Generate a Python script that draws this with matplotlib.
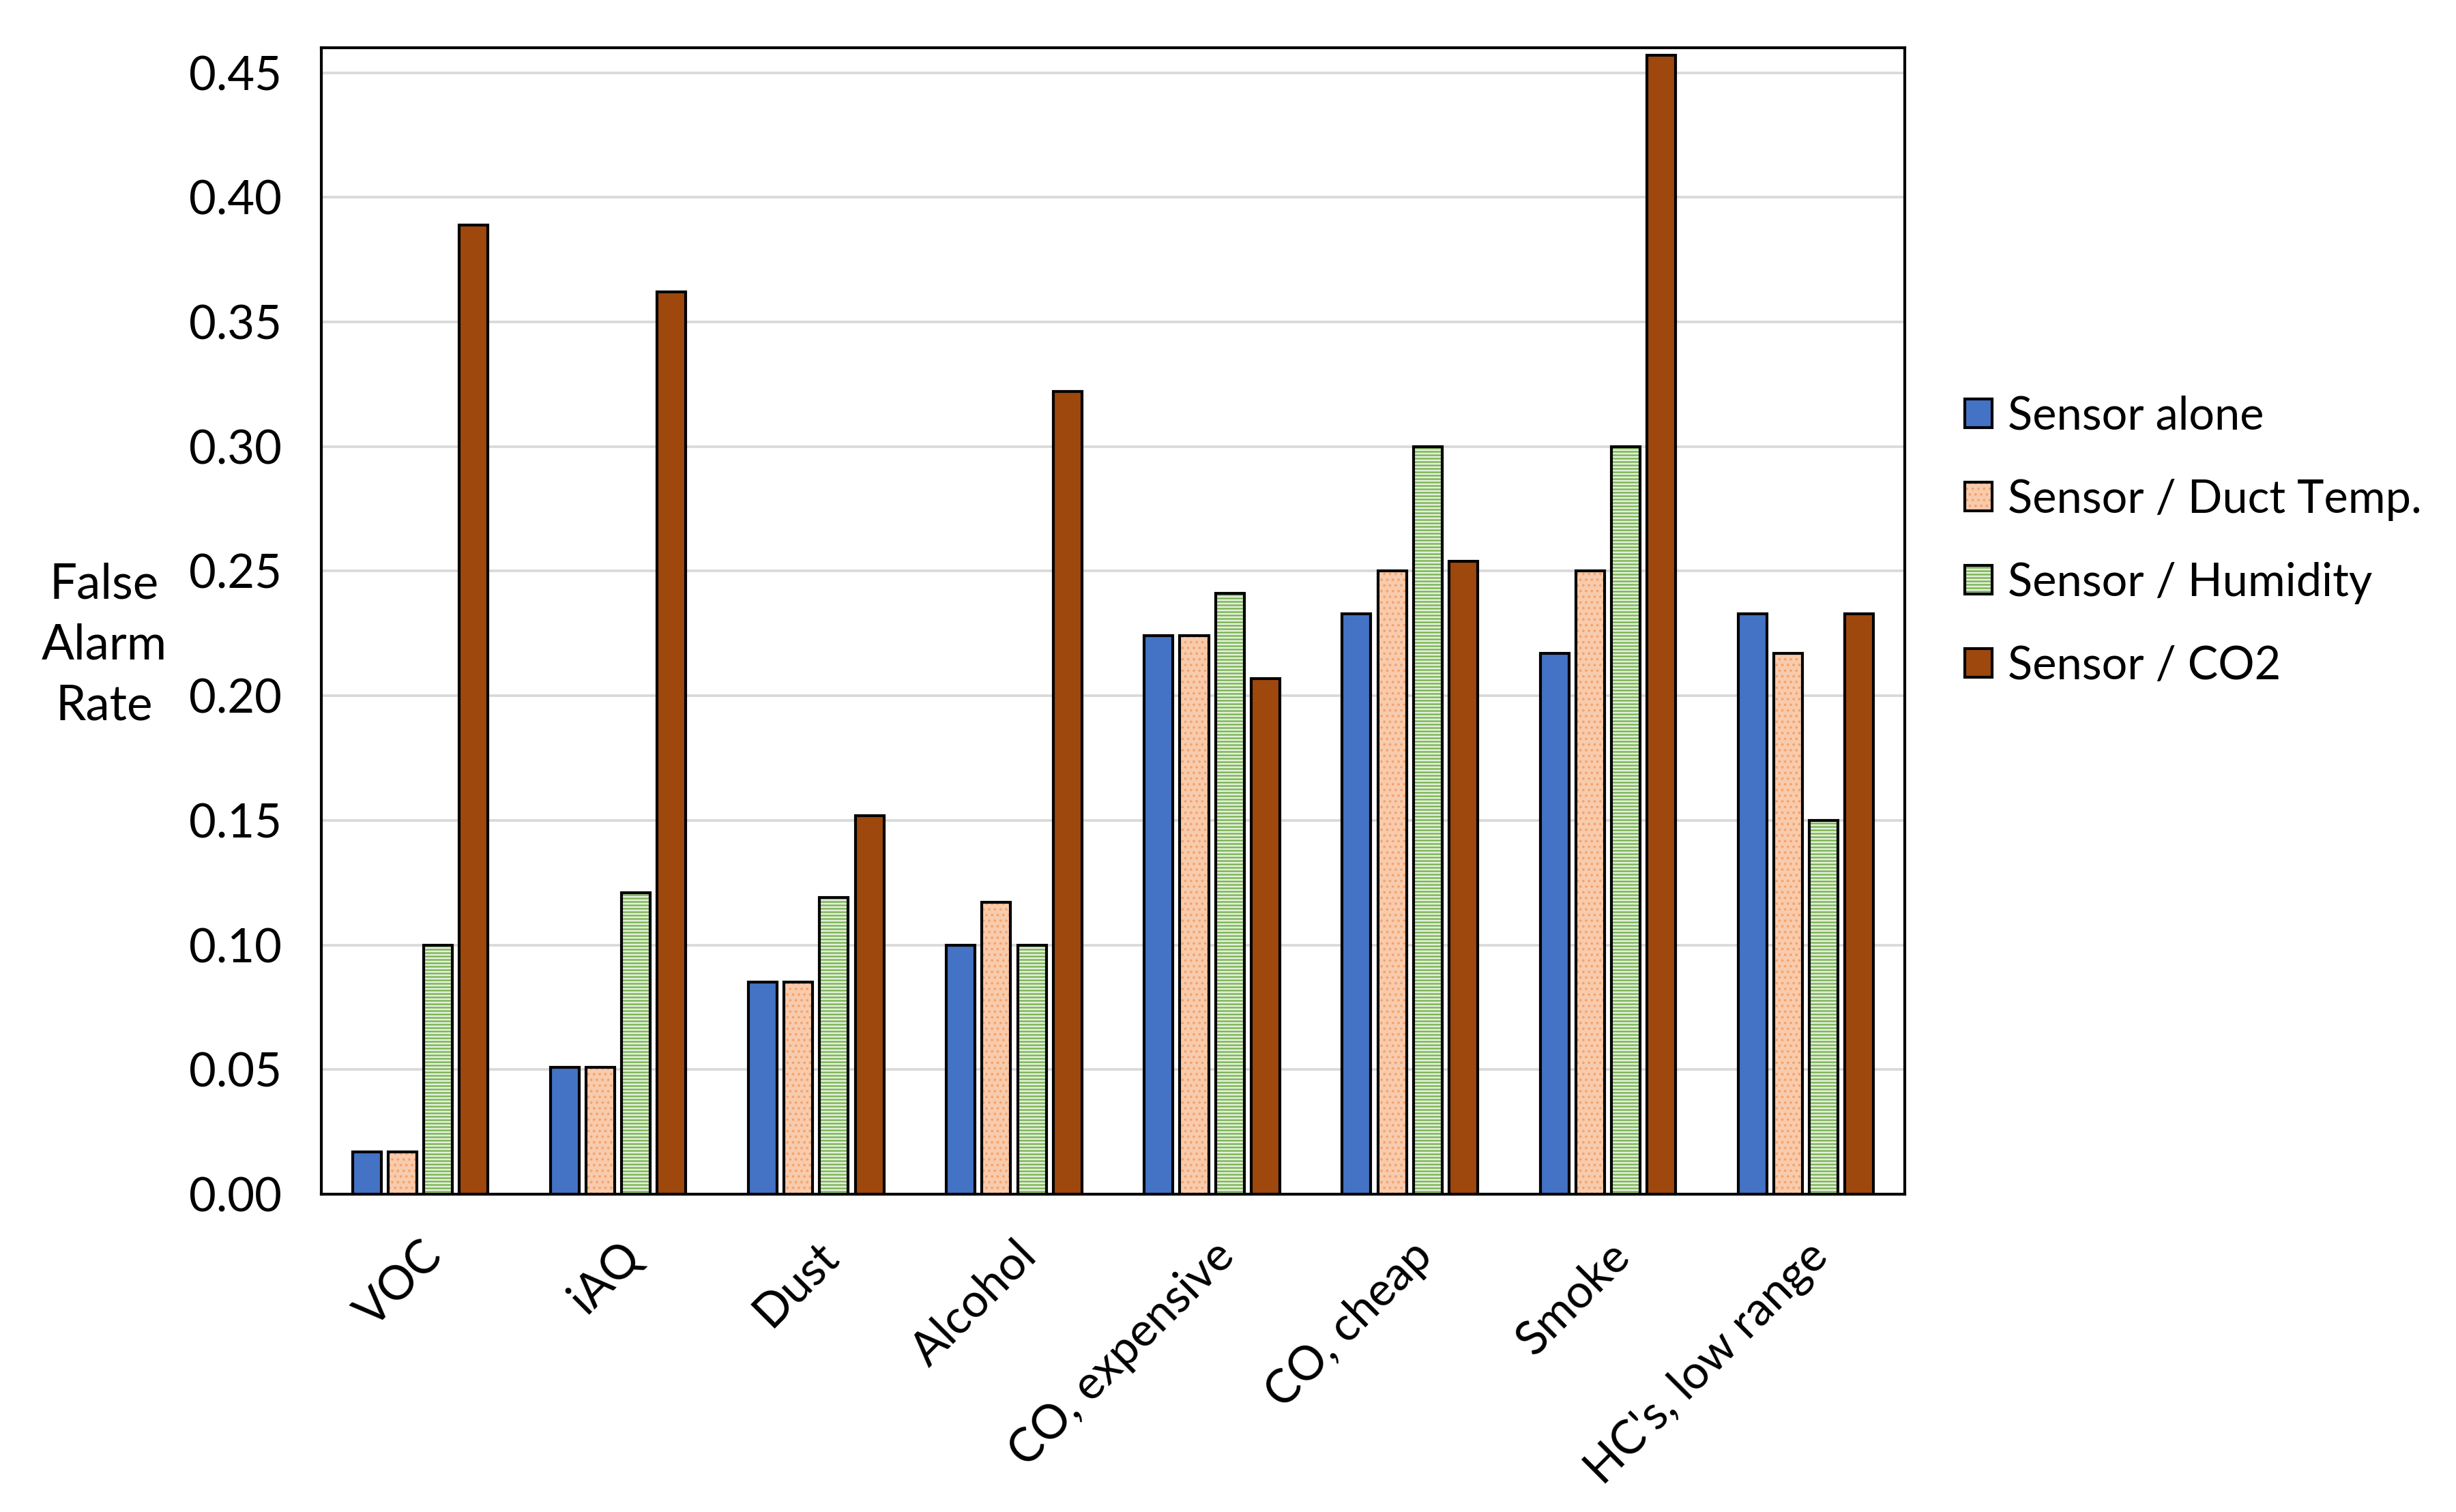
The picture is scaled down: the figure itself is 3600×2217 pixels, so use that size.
import numpy as np
import matplotlib
matplotlib.use('Agg')
import matplotlib.pyplot as plt
from matplotlib.patches import Patch
from matplotlib.legend_handler import HandlerTuple

plt.rcParams['font.family'] = ['Lato', 'DejaVu Sans']
plt.rcParams['hatch.linewidth'] = 0.5

categories = ['VOC', 'iAQ', 'Dust', 'Alcohol', 'CO, expensive', 'CO, cheap', 'Smoke', "HC's, low range"]
series_names = ['Sensor alone', 'Sensor / Duct Temp.', 'Sensor / Humidity', 'Sensor / CO2']
sensor_alone = [0.017, 0.051, 0.085, 0.100, 0.224, 0.233, 0.217, 0.233]
duct_temp = [0.017, 0.051, 0.085, 0.117, 0.224, 0.250, 0.250, 0.217]
humidity = [0.100, 0.121, 0.119, 0.100, 0.241, 0.300, 0.300, 0.150]
co2 = [0.389, 0.362, 0.152, 0.322, 0.207, 0.254, 0.457, 0.233]
yticks = [0.00, 0.05, 0.10, 0.15, 0.20, 0.25, 0.30, 0.35, 0.40, 0.45]

# fill colour, hatch, hatch colour
styles = [('#4472C4', None, '#4472C4'),
          ('#F8CBAD', '......', '#F4A46C'),
          ('#E2EFD9', '-' * 10, '#70AD47'),
          ('#9E480E', None, '#9E480E')]

fig = plt.figure(figsize=(12, 7.39), dpi=300)
ax = fig.add_axes([0.1308, 0.2102, 0.6448, 0.7582])

x = np.arange(len(categories))
width = 0.145
pitch = 0.18
handles = []
for i, vals in enumerate([sensor_alone, duct_temp, humidity, co2]):
    fc, hatch, hc = styles[i]
    pos = x + (i - 1.5) * pitch
    ax.bar(pos, vals, width, color=fc, hatch=hatch, edgecolor=hc, linewidth=0, zorder=3)
    ax.bar(pos, vals, width, fill=False, edgecolor='black', linewidth=1.0, zorder=4)
    handles.append((Patch(facecolor=fc, hatch=hatch, edgecolor=hc, linewidth=0),
                    Patch(fill=False, edgecolor='black', linewidth=1.0)))

ax.set_xlim(-0.5, len(categories) - 0.5)
ax.set_ylim(0, 0.46)
ax.set_yticks(yticks)
ax.set_yticklabels(['%.2f' % v for v in yticks], fontsize=16.5)
ax.set_xticks(x)
ax.set_xticklabels(categories, fontsize=16.5, rotation=45, ha='right', rotation_mode='anchor')
ax.tick_params(axis='both', length=0)
ax.tick_params(axis='y', pad=14)
ax.tick_params(axis='x', pad=14)
ax.grid(axis='y', color='#D9D9D9', linewidth=0.9, zorder=0)
for s in ax.spines.values():
    s.set_linewidth(1.0)
    s.set_color('black')

ax.text(-0.137, 0.479, 'False\nAlarm\nRate', transform=ax.transAxes, fontsize=17,
        ha='center', va='center', linespacing=1.45)

fig.legend(handles, series_names, handler_map={tuple: HandlerTuple(ndivide=1, pad=0)},
           loc='center left', bbox_to_anchor=(0.80, 0.642), frameon=False, fontsize=16,
           handlelength=0.6, handleheight=0.6, handletextpad=0.35, labelspacing=0.9,
           borderpad=0, borderaxespad=0)

fig.savefig('out.png', dpi=300)
